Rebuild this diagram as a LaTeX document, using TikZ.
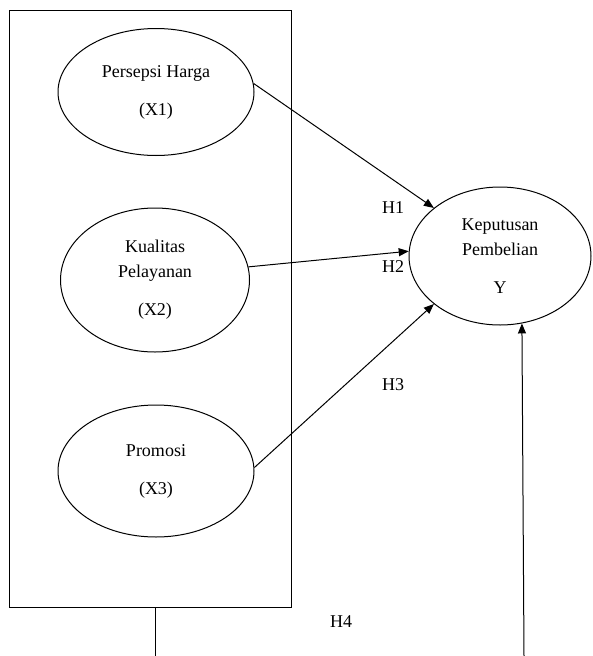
\documentclass[tikz,border=0pt]{standalone}
\usepackage{fontspec}
\setmainfont{Liberation Serif}
\usetikzlibrary{shapes.geometric,arrows.meta}
\begin{document}
\begin{tikzpicture}[
        x=1pt, y=-1pt,
        line width=1pt,
        font=\fontsize{18}{25}\selectfont
    ]
    \tikzset{
        varnode/.style = {ellipse, draw=black, align=center, inner sep=0pt},
        hyplabel/.style = {draw=none, inner sep=0pt},
        hyparrow/.style = {-{Triangle[length=10pt,width=8pt]}}
    }
    \useasboundingbox (0,0) rectangle (592,656);
    % frame round the independent variables
    \node[draw, minimum width=282pt, minimum height=597pt, inner sep=0pt] (frame) at (150,308.5) {};
    \node[varnode, minimum width=196pt, minimum height=127pt] (x1) at (156,92) {Persepsi Harga\\[13pt](X1)};
    \node[varnode, minimum width=189pt, minimum height=144pt] (x2) at (155,280) {Kualitas\\Pelayanan\\[13pt](X2)};
    \node[varnode, minimum width=196pt, minimum height=132pt] (x3) at (156,471) {Promosi\\[13pt](X3)};
    \node[varnode, minimum width=182pt, minimum height=138pt] (y) at (500,256) {Keputusan\\Pembelian\\[13pt]Y};
    % hypotheses
    \draw[hyparrow] (x1.5) -- (y.144);
    \draw[hyparrow] (x2.8) -- (y.177);
    \draw[hyparrow] (x3.2) -- (y.216);
    \coordinate (h4a) at (155,656);
    \coordinate (h4b) at (524,656);
    \draw (frame.south -| h4a) -- (h4a);
    \draw[hyparrow] (h4b) -- (y.-72);
    \node[hyplabel] (h1) at (393,208) {H1};
    \node[hyplabel] (h2) at (393,267) {H2};
    \node[hyplabel] (h3) at (393,385) {H3};
    \node[hyplabel] (h4) at (341,622) {H4};
\end{tikzpicture}
\end{document}
